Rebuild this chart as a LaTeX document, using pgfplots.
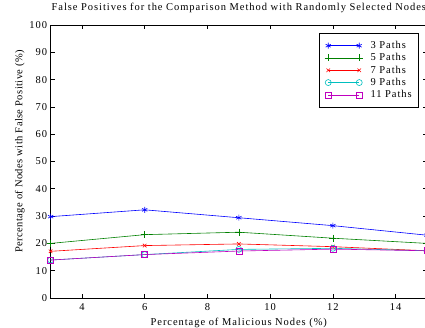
\documentclass[border=0pt]{standalone}
\usepackage{fontspec}
\setmainfont{Liberation Serif}[LetterSpace=9]
\usepackage{pgfplots}
\pgfplotsset{compat=1.18}
\definecolor{mblue}{rgb}{0,0,1}
\definecolor{mgreen}{rgb}{0,0.5,0}
\definecolor{mred}{rgb}{1,0,0}
\definecolor{mcyan}{rgb}{0,0.75,0.75}
\definecolor{mmag}{rgb}{0.75,0,0.75}
\begin{document}
\begin{tikzpicture}
\begin{axis}[
  at={(0pt,0pt)}, anchor=origin,
  scale only axis,
  width=376.4pt, height=273pt,
  xmin=3, xmax=15, ymin=0, ymax=100,
  xtick={4,6,8,10,12,14},
  ytick={0,10,20,30,40,50,60,70,80,90,100},
  tick align=inside,
  major tick length=4pt,
  axis line style={line width=0.8pt},
  tick style={line width=0.6pt, black},
  /pgf/number format/assume math mode=true,
  tick label style={font=\fontsize{10.5}{12}\selectfont},
  xticklabel style={yshift=-2pt},
  label style={font=\fontsize{10.5}{12}\selectfont},
  title style={font=\fontsize{10.5}{12}\selectfont, at={(0.5,1)}, anchor=south, yshift=3pt},
  title={False Positives for the Comparison Method with Randomly Selected Nodes},
  xlabel={Percentage of Malicious Nodes (\%)},
  ylabel={Percentage of Nodes with False Positive (\%)},
  xlabel style={yshift=-1pt},
  ylabel style={yshift=-2pt, at={(ticklabel cs:0.537)}, font=\fontsize{10.5}{12}\selectfont\addfontfeature{LetterSpace=4}},
  legend style={at={(0.979,0.971)}, anchor=north east, draw=black, line width=0.8pt,
    font=\fontsize{10.5}{12}\selectfont, cells={anchor=west}, row sep=-0.5pt,
    inner xsep=5pt, inner ysep=6pt},
  legend image code/.code={\draw[mark repeat=1,#1] plot coordinates {(0pt,0pt) (31pt,0pt)}; \path (40pt,0pt);},
  every axis plot/.append style={line width=0.6pt},
]
\addplot[color=mblue, mark=asterisk, mark size=3pt] coordinates {(3,29.8) (6,32.3) (9,29.4) (12,26.5) (15,23.0)};
\addlegendentry{3 Paths}
\addplot[color=mgreen, mark=+, mark size=3.5pt] coordinates {(3,20.0) (6,23.2) (9,24.1) (12,21.9) (15,20.0)};
\addlegendentry{5 Paths}
\addplot[color=mred, mark=x, mark size=2.5pt] coordinates {(3,17.1) (6,19.2) (9,19.8) (12,18.8) (15,17.3)};
\addlegendentry{7 Paths}
\addplot[color=mcyan, mark=o, mark size=3pt] coordinates {(3,13.9) (6,15.9) (9,17.8) (12,18.2) (15,17.3)};
\addlegendentry{9 Paths}
\addplot[color=mmag, mark=square, mark size=3pt] coordinates {(3,13.9) (6,15.9) (9,17.2) (12,17.9) (15,17.3)};
\addlegendentry{11 Paths}
\end{axis}
\pgfresetboundingbox
\useasboundingbox (-50.6pt,-30pt) rectangle (374.4pt,298pt);
\end{tikzpicture}
\end{document}
